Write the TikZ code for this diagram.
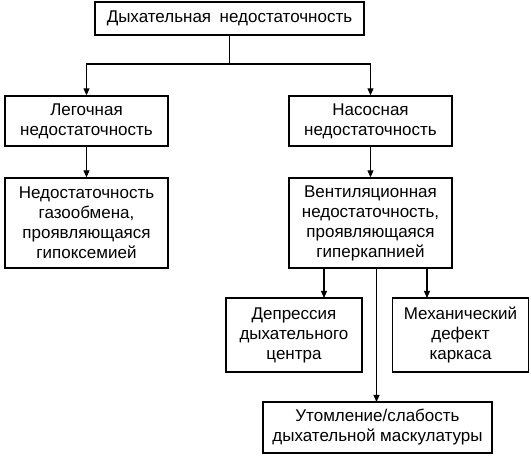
\documentclass[tikz,border=0pt]{standalone}
\usepackage{fontspec}
\setmainfont{Liberation Sans}
\usetikzlibrary{
    arrows.meta,
    positioning,
    calc
}
\tikzset{
  box/.style = {draw, line width=1.3pt, align=center, inner sep=0pt,
                font=\fontsize{17}{20}\selectfont},
  arr/.style = {-{Triangle[length=7pt,width=6pt]}, line width=1.1pt}
}

\begin{document}
\begin{tikzpicture}[x=1pt, y=-1pt,
    wide/.style={box, minimum width=163pt},
    small/.style={box, minimum width=136pt, minimum height=74pt}
]
\useasboundingbox (0,0) rectangle (531,457);

\node[box, minimum width=269pt, minimum height=33pt] (resp) at (229.5,18.5)
    {Дыхательная\enspace недостаточность};
\node[wide, minimum height=50pt] (lung) at (86.5,121)
    {Легочная\\недостаточность};
\node[wide, minimum height=50pt] (pump) at (370.5,121)
    {Насосная\\недостаточность};
\node[wide, minimum height=90pt] (gas) at (86.5,223)
    {Недостаточность\\газообмена,\\проявляющаяся\\гипоксемией};
\node[wide, minimum height=90pt] (vent) at (370.5,223)
    {Вентиляционная\\недостаточность,\\проявляющаяся\\гиперкапнией};
\node[small] (depr) at (294,335)
    {Депрессия\\дыхательного\\центра};
\node[small] (mech) at (460.5,335)
    {Механический\\дефект\\каркаса};
\node[box, minimum width=229pt, minimum height=51pt] (fatg) at (377.5,427.5)
    {Утомление/слабость\\дыхательной маскулатуры};

% branching points
\coordinate (split) at (229.5,64);
\coordinate (dtop) at (324,298);
\coordinate (mtop) at (427,298);
\coordinate (ftop) at (376.5,402);

\draw[arr] (resp) -- (split) -| (lung);
\draw[arr] (split) -| (pump);
\draw[arr] (lung) -- (gas);
\draw[arr] (pump) -- (vent);
\draw[arr] (vent.south -| dtop) -- (dtop);
\draw[arr] (vent.south -| mtop) -- (mtop);
\draw[arr] (vent.south -| ftop) -- (ftop);
\end{tikzpicture}
\end{document}
